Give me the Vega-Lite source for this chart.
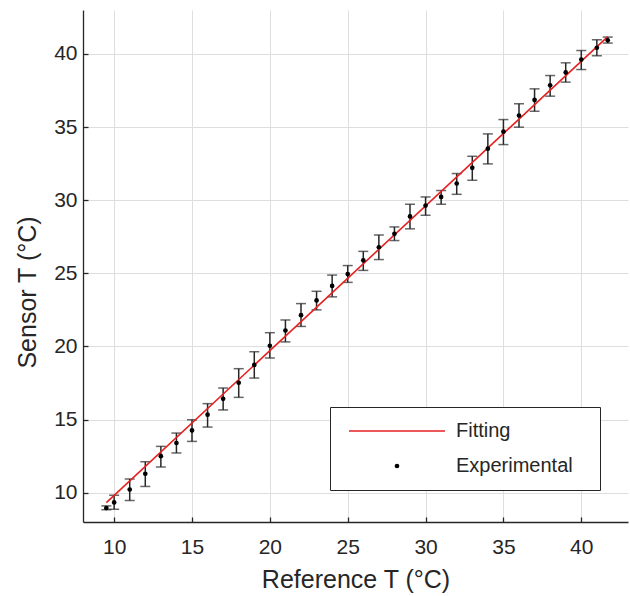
{
  "$schema": "https://vega.github.io/schema/vega-lite/v6.json",
  "width": 545,
  "height": 512,
  "autosize": {"type": "none"},
  "padding": {"left": 83, "top": 10, "right": 2, "bottom": 74},
  "background": "white",
  "config": {
    "view": {"stroke": null},
    "font": "Liberation Sans",
    "axis": {
      "domainColor": "#262626",
      "domainWidth": 1.3,
      "tickColor": "#262626",
      "tickWidth": 1.3,
      "tickSize": -5,
      "gridColor": "#dedede",
      "gridWidth": 1,
      "labelFont": "Liberation Sans",
      "labelFontSize": 21,
      "labelColor": "#262626",
      "titleFont": "Liberation Sans",
      "titleFontSize": 25,
      "titleFontWeight": "normal",
      "titleColor": "#262626"
    }
  },
  "datasets": {
    "fit": [
      {"ref": 9.5, "sensor": 9.33, "series": "Fitting"},
      {"ref": 41.7, "sensor": 41.18, "series": "Fitting"}
    ],
    "exp": [
      {"ref": 9.5, "sensor": 8.95, "lo": 8.84, "hi": 9.1, "series": "Experimental"},
      {"ref": 10, "sensor": 9.34, "lo": 8.87, "hi": 9.83, "series": "Experimental"},
      {"ref": 11, "sensor": 10.22, "lo": 9.47, "hi": 10.94, "series": "Experimental"},
      {"ref": 12, "sensor": 11.3, "lo": 10.43, "hi": 12.12, "series": "Experimental"},
      {"ref": 13, "sensor": 12.5, "lo": 11.76, "hi": 13.17, "series": "Experimental"},
      {"ref": 14, "sensor": 13.4, "lo": 12.72, "hi": 14.08, "series": "Experimental"},
      {"ref": 15, "sensor": 14.26, "lo": 13.51, "hi": 14.99, "series": "Experimental"},
      {"ref": 16, "sensor": 15.34, "lo": 14.49, "hi": 16.09, "series": "Experimental"},
      {"ref": 17, "sensor": 16.42, "lo": 15.66, "hi": 17.16, "series": "Experimental"},
      {"ref": 18, "sensor": 17.52, "lo": 16.52, "hi": 18.48, "series": "Experimental"},
      {"ref": 19, "sensor": 18.74, "lo": 17.84, "hi": 19.64, "series": "Experimental"},
      {"ref": 20, "sensor": 20.05, "lo": 19.21, "hi": 20.94, "series": "Experimental"},
      {"ref": 21, "sensor": 21.09, "lo": 20.31, "hi": 21.81, "series": "Experimental"},
      {"ref": 22, "sensor": 22.14, "lo": 21.37, "hi": 22.93, "series": "Experimental"},
      {"ref": 23, "sensor": 23.15, "lo": 22.5, "hi": 23.77, "series": "Experimental"},
      {"ref": 24, "sensor": 24.14, "lo": 23.39, "hi": 24.88, "series": "Experimental"},
      {"ref": 25, "sensor": 24.95, "lo": 24.38, "hi": 25.53, "series": "Experimental"},
      {"ref": 26, "sensor": 25.89, "lo": 25.2, "hi": 26.5, "series": "Experimental"},
      {"ref": 27, "sensor": 26.78, "lo": 25.94, "hi": 27.62, "series": "Experimental"},
      {"ref": 28, "sensor": 27.7, "lo": 27.24, "hi": 28.17, "series": "Experimental"},
      {"ref": 29, "sensor": 28.89, "lo": 28.04, "hi": 29.72, "series": "Experimental"},
      {"ref": 30, "sensor": 29.63, "lo": 28.97, "hi": 30.22, "series": "Experimental"},
      {"ref": 31, "sensor": 30.22, "lo": 29.72, "hi": 30.66, "series": "Experimental"},
      {"ref": 32, "sensor": 31.14, "lo": 30.4, "hi": 31.82, "series": "Experimental"},
      {"ref": 33, "sensor": 32.21, "lo": 31.36, "hi": 33.0, "series": "Experimental"},
      {"ref": 34, "sensor": 33.52, "lo": 32.48, "hi": 34.53, "series": "Experimental"},
      {"ref": 35, "sensor": 34.68, "lo": 33.8, "hi": 35.51, "series": "Experimental"},
      {"ref": 36, "sensor": 35.79, "lo": 34.99, "hi": 36.59, "series": "Experimental"},
      {"ref": 37, "sensor": 36.85, "lo": 36.08, "hi": 37.61, "series": "Experimental"},
      {"ref": 38, "sensor": 37.85, "lo": 37.11, "hi": 38.52, "series": "Experimental"},
      {"ref": 39, "sensor": 38.73, "lo": 38.07, "hi": 39.39, "series": "Experimental"},
      {"ref": 40, "sensor": 39.61, "lo": 38.93, "hi": 40.23, "series": "Experimental"},
      {"ref": 41, "sensor": 40.42, "lo": 39.87, "hi": 40.97, "series": "Experimental"},
      {"ref": 41.7, "sensor": 40.93, "lo": 40.74, "hi": 41.15, "series": "Experimental"}
    ]
  },
  "encoding": {
    "x": {
      "type": "quantitative",
      "scale": {"domain": [8, 43], "nice": false, "zero": false},
      "axis": {
        "title": "Reference T (°C)",
        "values": [10, 15, 20, 25, 30, 35, 40],
        "labelPadding": 19,
        "titlePadding": 10,
        "grid": true
      }
    },
    "y": {
      "type": "quantitative",
      "scale": {"domain": [8, 43], "nice": false, "zero": false},
      "axis": {
        "title": "Sensor T (°C)",
        "values": [10, 15, 20, 25, 30, 35, 40],
        "labelPadding": 11,
        "titleX": -56,
        "titleY": 282,
        "titleBaseline": "middle",
        "grid": true
      }
    }
  },
  "layer": [
    {
      "data": {"name": "exp"},
      "mark": {"type": "rule", "color": "#262626", "strokeWidth": 1.5},
      "encoding": {
        "x": {"field": "ref"},
        "y": {"field": "lo"},
        "y2": {"field": "hi"}
      }
    },
    {
      "data": {"name": "exp"},
      "mark": {"type": "tick", "orient": "horizontal", "color": "#262626", "size": 10, "thickness": 1.5},
      "encoding": {"x": {"field": "ref"}, "y": {"field": "lo"}}
    },
    {
      "data": {"name": "exp"},
      "mark": {"type": "tick", "orient": "horizontal", "color": "#262626", "size": 10, "thickness": 1.5},
      "encoding": {"x": {"field": "ref"}, "y": {"field": "hi"}}
    },
    {
      "data": {"name": "fit"},
      "mark": {"type": "line", "strokeWidth": 1.6},
      "encoding": {
        "x": {"field": "ref"},
        "y": {"field": "sensor"},
        "color": {
          "field": "series",
          "type": "nominal",
          "scale": {"domain": ["Fitting", "Experimental"], "range": ["#e62020", "#000000"]},
          "legend": {
            "orient": "none",
            "legendX": 247,
            "legendY": 397,
            "title": "M",
            "titleOrient": "right",
            "titleOpacity": 0,
            "titleFontSize": 10,
            "titlePadding": 4,
            "strokeColor": "#262626",
            "fillColor": "white",
            "padding": 14,
            "rowPadding": 15,
            "symbolSize": 100,
            "labelFont": "Liberation Sans",
            "labelFontSize": 20,
            "labelColor": "#262626",
            "encode": {
              "symbols": {
                "update": {
                  "shape": {"signal": "datum.value === 'Fitting' ? 'stroke' : 'circle'"},
                  "size": {"signal": "datum.value === 'Fitting' ? 9216 : 22"},
                  "x": {"value": 53},
                  "stroke": {"signal": "datum.value === 'Fitting' ? '#e62020' : 'transparent'"},
                  "strokeWidth": {"signal": "datum.value === 'Fitting' ? 1.6 : 0"},
                  "fill": {"signal": "datum.value === 'Fitting' ? 'transparent' : '#000000'"},
                  "opacity": {"value": 1},
                  "fillOpacity": {"value": 1}
                }
              },
              "labels": {
                "update": {
                  "x": {"value": 112}
                }
              }
            }
          }
        }
      }
    },
    {
      "data": {"name": "exp"},
      "mark": {"type": "point", "filled": true, "size": 22, "opacity": 1},
      "encoding": {
        "x": {"field": "ref"},
        "y": {"field": "sensor"},
        "color": {"field": "series", "type": "nominal"}
      }
    }
  ]
}
